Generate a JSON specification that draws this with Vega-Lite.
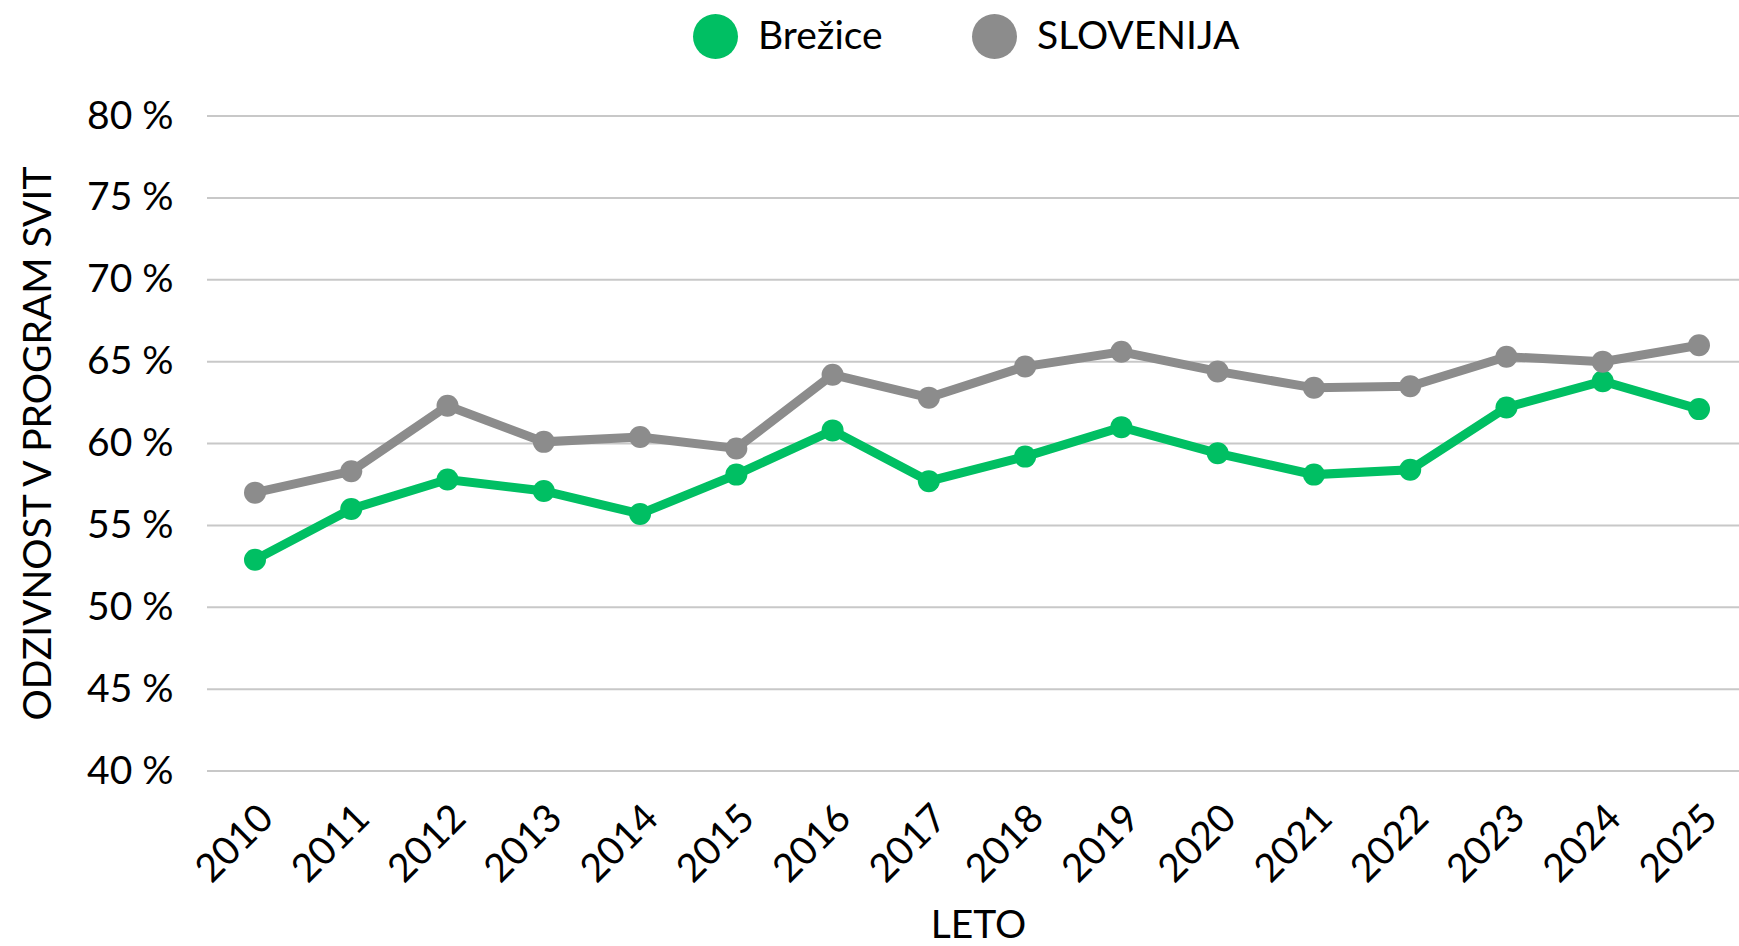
{
  "$schema": "https://vega.github.io/schema/vega-lite/v6.json",
  "autosize": {"type": "none"},
  "padding": {"left": 207, "top": 116, "right": 0, "bottom": 175},
  "width": 1532,
  "height": 655,
  "background": "white",
  "config": {"view": {"stroke": null}, "font": "Lato"},
  "datasets": {
    "mreza": [
      {"vrednost": 40}, {"vrednost": 45}, {"vrednost": 50}, {"vrednost": 55}, {"vrednost": 60},
      {"vrednost": 65}, {"vrednost": 70}, {"vrednost": 75}, {"vrednost": 80}
    ],
    "odzivnost": [
      {"leto": "2010", "obmocje": "Brežice", "odzivnost": 52.9},
      {"leto": "2011", "obmocje": "Brežice", "odzivnost": 56.0},
      {"leto": "2012", "obmocje": "Brežice", "odzivnost": 57.8},
      {"leto": "2013", "obmocje": "Brežice", "odzivnost": 57.1},
      {"leto": "2014", "obmocje": "Brežice", "odzivnost": 55.7},
      {"leto": "2015", "obmocje": "Brežice", "odzivnost": 58.1},
      {"leto": "2016", "obmocje": "Brežice", "odzivnost": 60.8},
      {"leto": "2017", "obmocje": "Brežice", "odzivnost": 57.7},
      {"leto": "2018", "obmocje": "Brežice", "odzivnost": 59.2},
      {"leto": "2019", "obmocje": "Brežice", "odzivnost": 61.0},
      {"leto": "2020", "obmocje": "Brežice", "odzivnost": 59.4},
      {"leto": "2021", "obmocje": "Brežice", "odzivnost": 58.1},
      {"leto": "2022", "obmocje": "Brežice", "odzivnost": 58.4},
      {"leto": "2023", "obmocje": "Brežice", "odzivnost": 62.2},
      {"leto": "2024", "obmocje": "Brežice", "odzivnost": 63.8},
      {"leto": "2025", "obmocje": "Brežice", "odzivnost": 62.1},
      {"leto": "2010", "obmocje": "SLOVENIJA", "odzivnost": 57.0},
      {"leto": "2011", "obmocje": "SLOVENIJA", "odzivnost": 58.3},
      {"leto": "2012", "obmocje": "SLOVENIJA", "odzivnost": 62.3},
      {"leto": "2013", "obmocje": "SLOVENIJA", "odzivnost": 60.1},
      {"leto": "2014", "obmocje": "SLOVENIJA", "odzivnost": 60.4},
      {"leto": "2015", "obmocje": "SLOVENIJA", "odzivnost": 59.7},
      {"leto": "2016", "obmocje": "SLOVENIJA", "odzivnost": 64.2},
      {"leto": "2017", "obmocje": "SLOVENIJA", "odzivnost": 62.8},
      {"leto": "2018", "obmocje": "SLOVENIJA", "odzivnost": 64.7},
      {"leto": "2019", "obmocje": "SLOVENIJA", "odzivnost": 65.6},
      {"leto": "2020", "obmocje": "SLOVENIJA", "odzivnost": 64.4},
      {"leto": "2021", "obmocje": "SLOVENIJA", "odzivnost": 63.4},
      {"leto": "2022", "obmocje": "SLOVENIJA", "odzivnost": 63.5},
      {"leto": "2023", "obmocje": "SLOVENIJA", "odzivnost": 65.3},
      {"leto": "2024", "obmocje": "SLOVENIJA", "odzivnost": 65.0},
      {"leto": "2025", "obmocje": "SLOVENIJA", "odzivnost": 66.0}
    ]
  },
  "layer": [
    {
      "data": {"name": "mreza"},
      "mark": {"type": "rule", "color": "#C8C8C8", "strokeWidth": 2},
      "encoding": {
        "y": {
          "field": "vrednost",
          "type": "quantitative",
          "scale": {"domain": [40, 80]},
          "axis": {
            "title": "ODZIVNOST V PROGRAM SVIT",
            "values": [40, 45, 50, 55, 60, 65, 70, 75, 80],
            "labelExpr": "datum.value + ' %'",
            "labelPadding": 34,
            "ticks": false,
            "tickSize": 0,
            "domain": false,
            "grid": false,
            "labelFont": "Lato",
            "labelFontSize": 39,
            "labelColor": "black",
            "titleFont": "Lato",
            "titleFontSize": 39,
            "titleFontWeight": "normal",
            "titleColor": "black",
            "titleAngle": -90,
            "titleX": -169,
            "titleY": 327,
            "titleAlign": "center",
            "titleBaseline": "middle"
          }
        }
      }
    },
    {
      "data": {"name": "odzivnost"},
      "mark": {"type": "line", "strokeWidth": 9, "point": {"filled": true, "size": 484}},
      "encoding": {
        "x": {
          "field": "leto",
          "type": "ordinal",
          "scale": {"type": "point", "range": [48, 1492], "padding": 0},
          "axis": {
            "title": "LETO",
            "labelAngle": -45,
            "labelAlign": "right",
            "labelBaseline": "alphabetic",
            "labelPadding": 49,
            "labelOffset": 20,
            "ticks": false,
            "tickSize": 0,
            "domain": false,
            "grid": false,
            "labelFont": "Lato",
            "labelFontSize": 39,
            "labelColor": "black",
            "labelOverlap": false,
            "titleFont": "Lato",
            "titleFontSize": 39,
            "titleFontWeight": "normal",
            "titleColor": "black",
            "titleX": 771,
            "titleY": 174,
            "titleAlign": "center",
            "titleBaseline": "bottom"
          }
        },
        "y": {
          "field": "odzivnost",
          "type": "quantitative",
          "scale": {"domain": [40, 80]},
          "axis": {
            "title": "ODZIVNOST V PROGRAM SVIT",
            "values": [40, 45, 50, 55, 60, 65, 70, 75, 80],
            "labelExpr": "datum.value + ' %'",
            "labelPadding": 34,
            "ticks": false,
            "tickSize": 0,
            "domain": false,
            "grid": false,
            "labelFont": "Lato",
            "labelFontSize": 39,
            "labelColor": "black",
            "titleFont": "Lato",
            "titleFontSize": 39,
            "titleFontWeight": "normal",
            "titleColor": "black",
            "titleAngle": -90,
            "titleX": -169,
            "titleY": 327,
            "titleAlign": "center",
            "titleBaseline": "middle"
          }
        },
        "color": {
          "field": "obmocje",
          "type": "nominal",
          "scale": {"domain": ["Brežice", "SLOVENIJA"], "range": ["#00BF63", "#8C8C8C"]},
          "legend": {
            "title": null,
            "orient": "none",
            "legendX": 486,
            "legendY": -102,
            "direction": "horizontal",
            "padding": 0,
            "symbolType": "circle",
            "symbolSize": 2025,
            "labelFont": "Lato",
            "labelFontSize": 39,
            "labelColor": "black",
            "labelOffset": 20,
            "labelLimit": 500,
            "columnPadding": 89,
            "encode": {
              "symbols": {
                "update": {
                  "fill": {"scale": "color", "field": "value"},
                  "fillOpacity": {"value": 1},
                  "strokeWidth": {"value": 0}
                }
              }
            }
          }
        }
      }
    }
  ]
}
